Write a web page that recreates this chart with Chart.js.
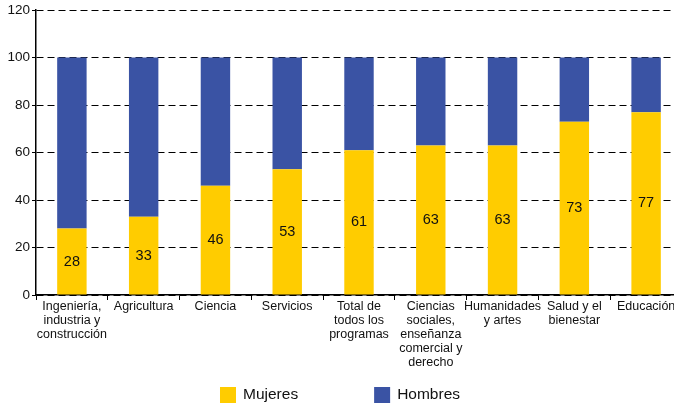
<!DOCTYPE html>
<html>
<head>
<meta charset="utf-8">
<script src="https://cdn.jsdelivr.net/npm/chart.js@4/dist/chart.umd.min.js"></script>
<style>
	html, body { margin: 0; padding: 0; background: #fff; overflow: hidden; }
	#wrap { width: 684px; height: 408px; }
</style>
</head>
<body>
<div id="wrap"><canvas id="shareChart"></canvas></div>
<script>
const categories = [
	['Ingeniería,', 'industria y', 'construcción'],
	'Agricultura',
	'Ciencia',
	'Servicios',
	['Total de', 'todos los', 'programas'],
	['Ciencias', 'sociales,', 'enseñanza', 'comercial y', 'derecho'],
	['Humanidades', 'y artes'],
	['Salud y el', 'bienestar'],
	'Educación'
];
const mujeres = [28, 33, 46, 53, 61, 63, 63, 73, 77];
const hombres = [72, 67, 54, 47, 39, 37, 37, 27, 23];
const yTicks = [0, 20, 40, 60, 80, 100, 120];

const FONT = '"Liberation Sans", Arial, sans-serif';

// numbers inside the yellow part
const valueLabels = {
	id: 'valueLabels',
	afterDatasetsDraw(chart) {
		const ctx = chart.ctx;
		const meta = chart.getDatasetMeta(0);
		ctx.save();
		ctx.font = '14.5px ' + FONT;
		ctx.fillStyle = '#111';
		ctx.textAlign = 'center';
		ctx.textBaseline = 'middle';
		meta.data.forEach((bar, i) => {
			ctx.fillText(String(mujeres[i]), bar.x, (bar.y + bar.base) / 2);
		});
		ctx.restore();
	}
};

// legend drawn below the labels, items spaced wide apart
const wideLegend = {
	id: 'wideLegend',
	afterDraw(chart) {
		const ctx = chart.ctx;
		const items = chart.data.datasets.map(ds => ({ text: ds.label, color: ds.backgroundColor }));
		const box = 16, gapText = 7, gapItem = 76;
		ctx.save();
		ctx.font = '15.5px ' + FONT;
		const widths = items.map(it => box + gapText + ctx.measureText(it.text).width);
		const total = widths.reduce((a, b) => a + b, 0) + gapItem * (items.length - 1);
		let x = chart.width / 2 - total / 2 - 2;
		const y = chart.height - 13;
		ctx.textBaseline = 'middle';
		items.forEach((it, i) => {
			ctx.fillStyle = it.color;
			ctx.fillRect(x, y - box / 2, box, box);
			ctx.fillStyle = '#111';
			ctx.fillText(it.text, x + box + gapText, y);
			x += widths[i] + gapItem;
		});
		ctx.restore();
	}
};

const ctx = document.getElementById('shareChart').getContext('2d');

new Chart(ctx, {
	type: 'bar',
	data: {
		labels: categories,
		datasets: [
			{
				label: 'Mujeres',
				data: mujeres,
				backgroundColor: '#FFCC00',
			},
			{
				label: 'Hombres',
				data: hombres,
				backgroundColor: '#3A53A4',
			}
		]
	},
	options: {
		responsive: true,
		maintainAspectRatio: false,
		animation: false,
		layout: { padding: { top: 7, right: 2, left: 0, bottom: 41 } },
		datasets: {
			bar: { categoryPercentage: 1, barPercentage: 0.41 }
		},
		plugins: {
			legend: { display: false },
			tooltip: { enabled: false }
		},
		scales: {
			x: {
				stacked: true,
				grid: {
					drawOnChartArea: false,
					drawTicks: true,
					tickLength: 5,
					color: '#000'
				},
				border: { color: '#000', width: 1.5 },
				ticks: {
					maxRotation: 0,
					autoSkip: false,
					padding: 0,
					color: '#111',
					font: { family: FONT, size: 12.5, lineHeight: 1.12 }
				},
				afterFit(scale) { scale.height = 72; }
			},
			y: {
				stacked: true,
				min: 0,
				max: 120,
				afterBuildTicks(scale) { scale.ticks = yTicks.map(v => ({ value: v })); },
				grid: {
					color: '#000',
					lineWidth: 1,
					tickLength: 4,
					tickColor: '#000'
				},
				border: { color: '#000', width: 1.5, dash: [7, 4] },
				ticks: {
					padding: 2,
					color: '#111',
					font: { family: FONT, size: 13.5 }
				},
				afterFit(scale) { scale.width = 36; }
			}
		}
	},
	plugins: [valueLabels, wideLegend]
});
</script>
</body>
</html>
